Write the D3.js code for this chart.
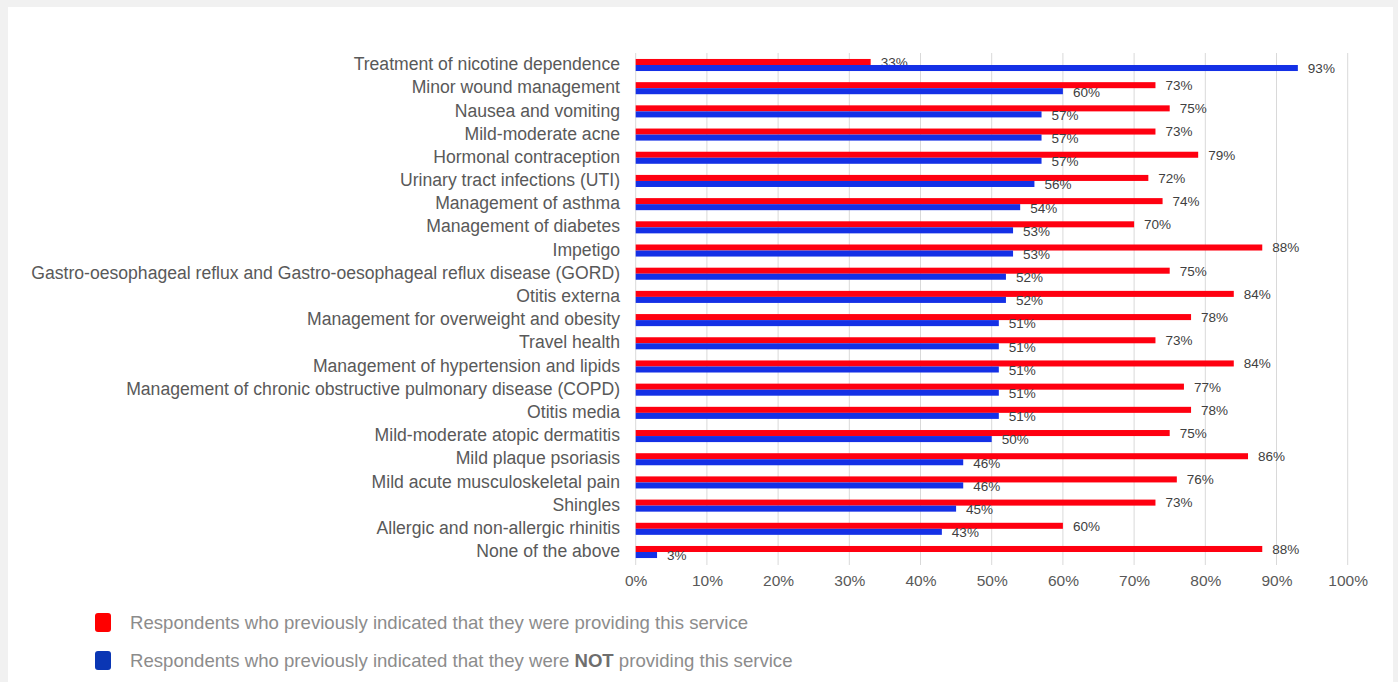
<!DOCTYPE html>
<html>
<head>
<meta charset="utf-8">
<script src="https://cdn.jsdelivr.net/npm/d3@7"></script>
<style>
  html, body { margin: 0; padding: 0; background: #f1f1f1; }
  svg { display: block; }
  text { font-family: "Liberation Sans", Arial, sans-serif; }
</style>
</head>
<body>
<svg id="chart" width="1398" height="682"></svg>
<script>
// Services, top to bottom
const categories = [
  "Treatment of nicotine dependence",
  "Minor wound management",
  "Nausea and vomiting",
  "Mild-moderate acne",
  "Hormonal contraception",
  "Urinary tract infections (UTI)",
  "Management of asthma",
  "Management of diabetes",
  "Impetigo",
  "Gastro-oesophageal reflux and Gastro-oesophageal reflux disease (GORD)",
  "Otitis externa",
  "Management for overweight and obesity",
  "Travel health",
  "Management of hypertension and lipids",
  "Management of chronic obstructive pulmonary disease (COPD)",
  "Otitis media",
  "Mild-moderate atopic dermatitis",
  "Mild plaque psoriasis",
  "Mild acute musculoskeletal pain",
  "Shingles",
  "Allergic and non-allergic rhinitis",
  "None of the above"
];

// % of respondents already providing the service
const providing = [33, 73, 75, 73, 79, 72, 74, 70, 88, 75, 84, 78, 73, 84, 77, 78, 75, 86, 76, 73, 60, 88];
// % of respondents not providing the service
const notProviding = [93, 60, 57, 57, 57, 56, 54, 53, 53, 52, 52, 51, 51, 51, 51, 51, 50, 46, 46, 45, 43, 3];

const xTicks = [0, 10, 20, 30, 40, 50, 60, 70, 80, 90, 100];

const seriesKeys = ["providing", "notProviding"];
const seriesColors = { providing: "#ff0010", notProviding: "#1430e6" };

const svg = d3.select("#chart");

// white card
svg.append("rect")
  .attr("x", 8).attr("y", 7)
  .attr("width", 1385).attr("height", 690)
  .attr("fill", "#ffffff");

const x = d3.scaleLinear().domain([0, 100]).range([635.7, 1347.7]);
const y = d3.scaleBand().domain(categories).range([53.4, 563.6])
  .paddingInner(0.48).paddingOuter(0.24);
const ySub = d3.scaleBand().domain(seriesKeys).range([0, y.bandwidth()]);

// gridlines
svg.append("g")
  .selectAll("line")
  .data(xTicks)
  .join("line")
  .attr("x1", d => x(d)).attr("x2", d => x(d))
  .attr("y1", 53).attr("y2", 565)
  .attr("stroke", "#d9d9d9").attr("stroke-width", 1);

// x axis tick labels
const xAxis = d3.axisBottom(x).tickValues(xTicks).tickFormat(d => d + "%").tickSize(0).tickPadding(0);
const gx = svg.append("g").attr("transform", "translate(0,575)").call(xAxis);
gx.select(".domain").remove();
gx.selectAll("text")
  .attr("font-family", "Liberation Sans, Arial, sans-serif")
  .attr("font-size", "15.5px")
  .attr("fill", "#595959");

// category labels
const yAxis = d3.axisLeft(y).tickSize(0).tickPadding(0);
const gy = svg.append("g").attr("transform", "translate(620,-0.5)").call(yAxis);
gy.select(".domain").remove();
gy.selectAll("text")
  .attr("font-family", "Liberation Sans, Arial, sans-serif")
  .attr("font-size", "17.6px")
  .attr("fill", "#595959");

const rows = categories.map((c, i) => ({ c, providing: providing[i], notProviding: notProviding[i] }));

const groups = svg.append("g")
  .selectAll("g")
  .data(rows)
  .join("g")
  .attr("transform", d => `translate(0,${y(d.c)})`);

seriesKeys.forEach(k => {
  groups.append("rect")
    .attr("x", x(0))
    .attr("y", ySub(k))
    .attr("width", d => x(d[k]) - x(0))
    .attr("height", ySub.bandwidth())
    .attr("fill", seriesColors[k]);

  groups.append("text")
    .attr("x", d => x(d[k]) + 10)
    .attr("y", ySub(k) + ySub.bandwidth() / 2 + (k === "notProviding" ? 0.5 : 0))
    .attr("dy", "0.36em")
    .attr("font-size", "13.5px")
    .attr("fill", "#404040")
    .text(d => d[k] + "%");
});

// legend
const legend = svg.append("g");
const legendItems = [
  { color: "#ff0000", y: 622, parts: [["Respondents who previously indicated that they were providing this service", false]] },
  { color: "#0a36b4", y: 660, parts: [["Respondents who previously indicated that they were ", false], ["NOT", true], [" providing this service", false]] }
];
legendItems.forEach(item => {
  legend.append("rect")
    .attr("x", 95).attr("y", item.y - 9)
    .attr("width", 16).attr("height", 19)
    .attr("rx", 3)
    .attr("fill", item.color);
  const t = legend.append("text")
    .attr("x", 130).attr("y", item.y)
    .attr("dy", "0.36em")
    .attr("font-size", "18.6px")
    .attr("fill", "#8c8c8c");
  item.parts.forEach(([s, bold]) => {
    t.append("tspan")
      .attr("font-weight", bold ? "bold" : "normal")
      .attr("fill", bold ? "#6e6e6e" : "#8c8c8c")
      .text(s);
  });
});
</script>
</body>
</html>
